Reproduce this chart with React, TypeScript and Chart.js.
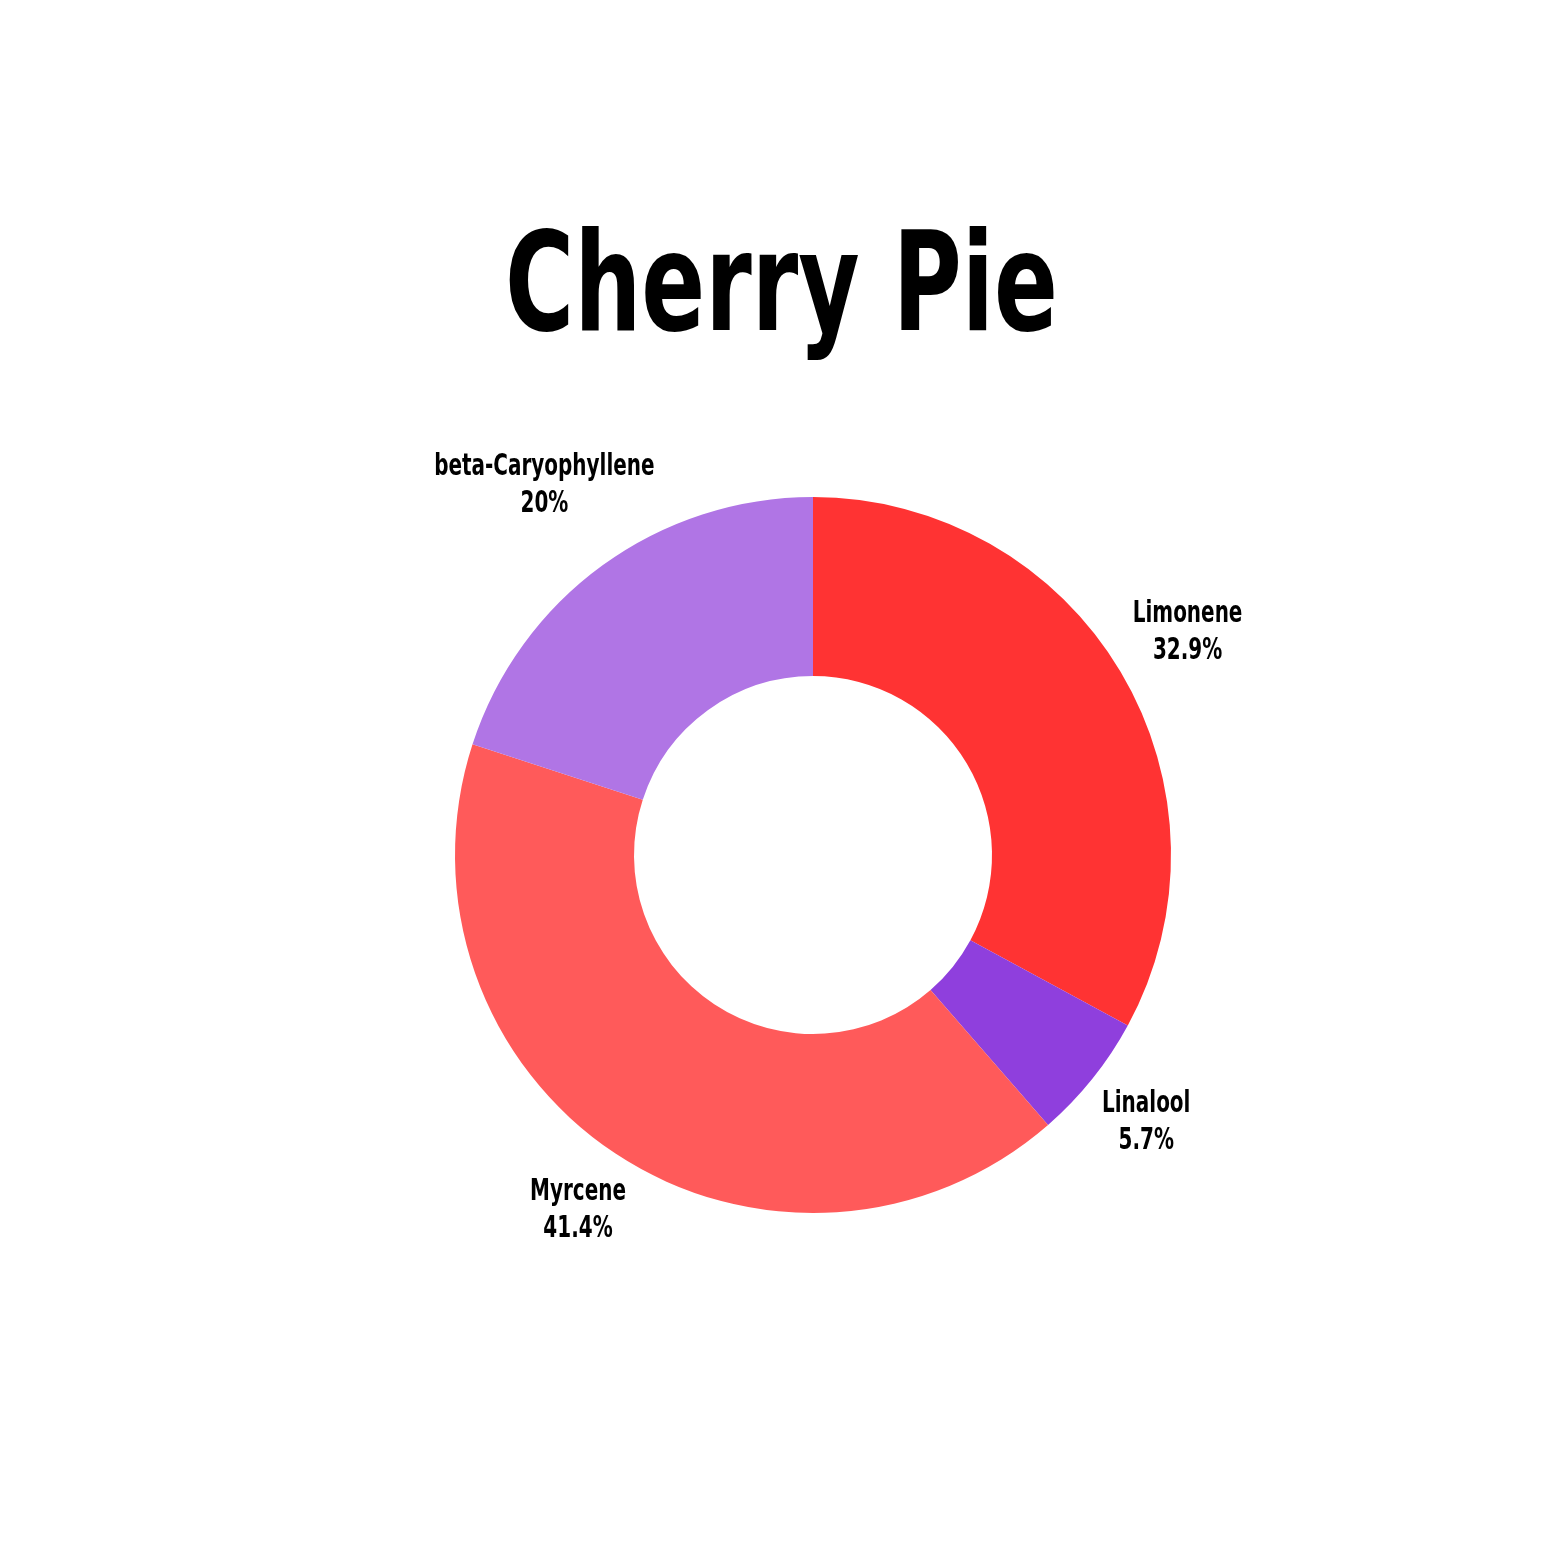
import React, { useEffect, useRef } from 'react';
import { Chart, registerables, Plugin } from 'chart.js';

Chart.register(...registerables);

const chartTitle = 'Cherry Pie';
const terpenes = ['Limonene', 'Linalool', 'Myrcene', 'beta-Caryophyllene'];
const shares = [32.9, 5.7, 41.4, 20];
const sliceColors = ['#FF3333', '#8F3FDD', '#FF5A5A', '#B075E5'];

const FONT = '"DejaVu Sans Condensed", "DejaVu Sans", sans-serif';

// title is centred on the canvas, not on the (offset) doughnut
const titlePlugin: Plugin<'doughnut'> = {
    id: 'canvasTitle',
    afterDraw: (chart) => {
        const ctx = chart.ctx;
        ctx.save();
        ctx.font = `bold 137px ${FONT}`;
        ctx.fillStyle = '#000';
        ctx.textAlign = 'center';
        ctx.textBaseline = 'alphabetic';
        ctx.translate(chart.width / 2, 330);
        ctx.scale(0.765, 1);
        ctx.fillText(chartTitle, 0, 0);
        ctx.restore();
    },
};

const labelScaleX = 0.74;
const labelGap = 12;

const outsideLabels: Plugin<'doughnut'> = {
    id: 'outsideLabels',
    afterDatasetsDraw: (chart) => {
        const ctx = chart.ctx;
        const meta = chart.getDatasetMeta(0);
        ctx.save();
        ctx.font = `bold 30px ${FONT}`;
        ctx.fillStyle = '#000';
        ctx.textAlign = 'center';
        ctx.textBaseline = 'middle';
        meta.data.forEach((arc: any, i) => {
            const { x, y, startAngle, endAngle, outerRadius } = arc.getProps(
                ['x', 'y', 'startAngle', 'endAngle', 'outerRadius'], true);
            const mid = (startAngle + endAngle) / 2;
            const lines = [terpenes[i], `${shares[i]}%`];
            const halfW = Math.max(...lines.map(l => ctx.measureText(l).width)) * labelScaleX / 2;
            const halfH = 35;
            let d = outerRadius;
            for (; d < outerRadius * 2; d += 1) {
                const cx = x + Math.cos(mid) * d;
                const cy = y + Math.sin(mid) * d;
                const nx = Math.max(cx - halfW, Math.min(x, cx + halfW));
                const ny = Math.max(cy - halfH, Math.min(y, cy + halfH));
                if (Math.hypot(nx - x, ny - y) >= outerRadius + labelGap) break;
            }
            const cx = x + Math.cos(mid) * d;
            const cy = y + Math.sin(mid) * d;
            lines.forEach((line, j) => {
                ctx.save();
                ctx.translate(cx, cy + (j === 0 ? -18 : 19));
                ctx.scale(labelScaleX, 1);
                ctx.fillText(line, 0, 0);
                ctx.restore();
            });
        });
        ctx.restore();
    },
};

const App = () => {
    const canvasRef = useRef<HTMLCanvasElement | null>(null);

    useEffect(() => {
        document.body.style.margin = '0';
        if (!canvasRef.current) {
            return;
        }
        const chart = new Chart(canvasRef.current, {
            type: 'doughnut',
            data: {
                labels: terpenes,
                datasets: [{
                    data: shares,
                    backgroundColor: sliceColors,
                    borderWidth: 0,
                }],
            },
            options: {
                animation: false,
                responsive: true,
                maintainAspectRatio: false,
                devicePixelRatio: 1,
                cutout: '50%',
                layout: {
                    padding: { left: 455, right: 392, top: 497, bottom: 350 },
                },
                plugins: {
                    legend: { display: false },
                    tooltip: { enabled: false },
                },
            },
            plugins: [titlePlugin, outsideLabels],
        });

        return () => {
            chart.destroy();
        };
    }, []);

    return (
        <div style={{ width: 1563, height: 1563, position: 'relative', background: '#fff' }}>
            <canvas ref={canvasRef} />
        </div>
    );
};

export default App;
